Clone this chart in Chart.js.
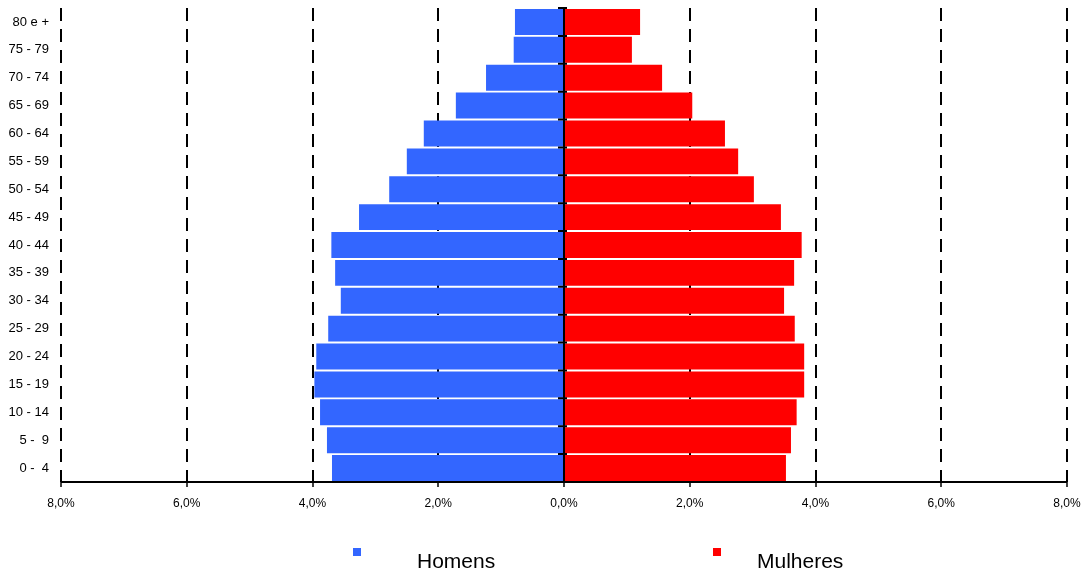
<!DOCTYPE html>
<html lang="pt">
<head>
<meta charset="utf-8">
<title>Pirâmide etária</title>
<script src="https://cdn.jsdelivr.net/npm/chart.js@4.4.1/dist/chart.umd.min.js"></script>
<style>
  html, body { margin: 0; padding: 0; background: #fff; overflow: hidden; }
  #wrap { width: 1084px; height: 573px; position: relative; }
</style>
</head>
<body>
<div id="wrap"><canvas id="piramide"></canvas></div>
<script>
// Faixas etárias (de cima para baixo)
const faixas = ['80 e +', '75 - 79', '70 - 74', '65 - 69', '60 - 64', '55 - 59', '50 - 54',
  '45 - 49', '40 - 44', '35 - 39', '30 - 34', '25 - 29', '20 - 24', '15 - 19',
  '10 - 14', '5 -  9', '0 -  4'];

// Percentual da população por sexo
const homens = [0.78, 0.80, 1.24, 1.72, 2.23, 2.50, 2.78, 3.26, 3.70, 3.64, 3.55, 3.75,
  3.94, 3.97, 3.88, 3.77, 3.69];
const mulheres = [1.21, 1.08, 1.56, 2.04, 2.56, 2.77, 3.02, 3.45, 3.78, 3.66, 3.50, 3.67,
  3.82, 3.82, 3.70, 3.61, 3.53];

// Marcas do eixo horizontal
const ticksX = [-8, -6, -4, -2, 0, 2, 4, 6, 8];

const corHomens = '#3366FF';
const corMulheres = '#FF0000';
const fonte = '"Liberation Sans", Arial, sans-serif';

// Linha do zero e eixo inferior desenhados por cima das barras
const eixos = {
  id: 'eixos',
  afterDatasetsDraw(chart) {
    const { ctx, chartArea: a, scales } = chart;
    const x0 = scales.x.getPixelForValue(0);
    ctx.save();
    ctx.strokeStyle = '#000';
    ctx.lineWidth = 2;
    ctx.setLineDash([]);
    ctx.beginPath();
    ctx.moveTo(x0, a.top);
    ctx.lineTo(x0, a.bottom);
    ctx.stroke();
    const n = faixas.length;
    const passo = (a.bottom - a.top) / n;
    ctx.beginPath();
    for (let i = 0; i < n; i++) {
      const y = a.top + i * passo;
      ctx.moveTo(x0 - 6, y);
      ctx.lineTo(x0 + 3, y);
    }
    ctx.stroke();
    ctx.beginPath();
    ctx.moveTo(a.left, a.bottom);
    ctx.lineTo(a.right, a.bottom);
    ctx.stroke();
    ctx.restore();
  }
};

// Legenda com quadrado pequeno e texto afastado
const legenda = {
  id: 'legenda',
  afterDraw(chart) {
    const { ctx } = chart;
    const itens = [
      { quad: 353, texto: 417 },
      { quad: 713, texto: 757 }
    ];
    ctx.save();
    ctx.font = '21px ' + fonte;
    ctx.textBaseline = 'alphabetic';
    ctx.textAlign = 'left';
    chart.data.datasets.forEach((ds, i) => {
      const p = itens[i];
      ctx.fillStyle = ds.backgroundColor;
      ctx.fillRect(p.quad, 548, 8, 8);
      ctx.fillStyle = '#000';
      ctx.fillText(ds.label, p.texto, 568);
    });
    ctx.restore();
  }
};

new Chart(document.getElementById('piramide'), {
  type: 'bar',
  data: {
    labels: faixas,
    datasets: [
      { label: 'Homens', data: homens.map(v => -v), backgroundColor: corHomens,
        categoryPercentage: 0.93, barPercentage: 1 },
      { label: 'Mulheres', data: mulheres, backgroundColor: corMulheres,
        categoryPercentage: 0.93, barPercentage: 1 }
    ]
  },
  options: {
    indexAxis: 'y',
    responsive: true,
    maintainAspectRatio: false,
    animation: false,
    layout: { padding: { left: 0, top: 8, right: 17, bottom: 61 } },
    plugins: {
      legend: { display: false },
      tooltip: { enabled: false }
    },
    scales: {
      x: {
        type: 'linear',
        stacked: true,
        min: -8,
        max: 8,
        afterBuildTicks: s => { s.ticks = ticksX.map(v => ({ value: v })); },
        afterFit: s => {
          s.height = 30;
          s.paddingLeft = 0; s.paddingRight = 0;
        },
        ticks: {
          callback: v => Math.abs(v).toFixed(1).replace('.', ',') + '%',
          color: '#000',
          font: { family: fonte, size: 12 },
          padding: 9,
          maxRotation: 0,
          autoSkip: false
        },
        grid: {
          color: '#000',
          lineWidth: 2,
          drawTicks: true,
          tickLength: 5,
          tickColor: '#000',
          tickWidth: 1.5,
          tickBorderDash: []
        },
        border: { display: false, dash: [13, 8] }
      },
      y: {
        type: 'category',
        stacked: true,
        afterFit: s => {
          s.width = 61;
          s.paddingTop = 0; s.paddingBottom = 0;
        },
        ticks: {
          color: '#000',
          font: { family: fonte, size: 13 },
          padding: 12,
          autoSkip: false
        },
        grid: { display: false, drawTicks: false },
        border: { display: false }
      }
    }
  },
  plugins: [eixos, legenda]
});
</script>
</body>
</html>
